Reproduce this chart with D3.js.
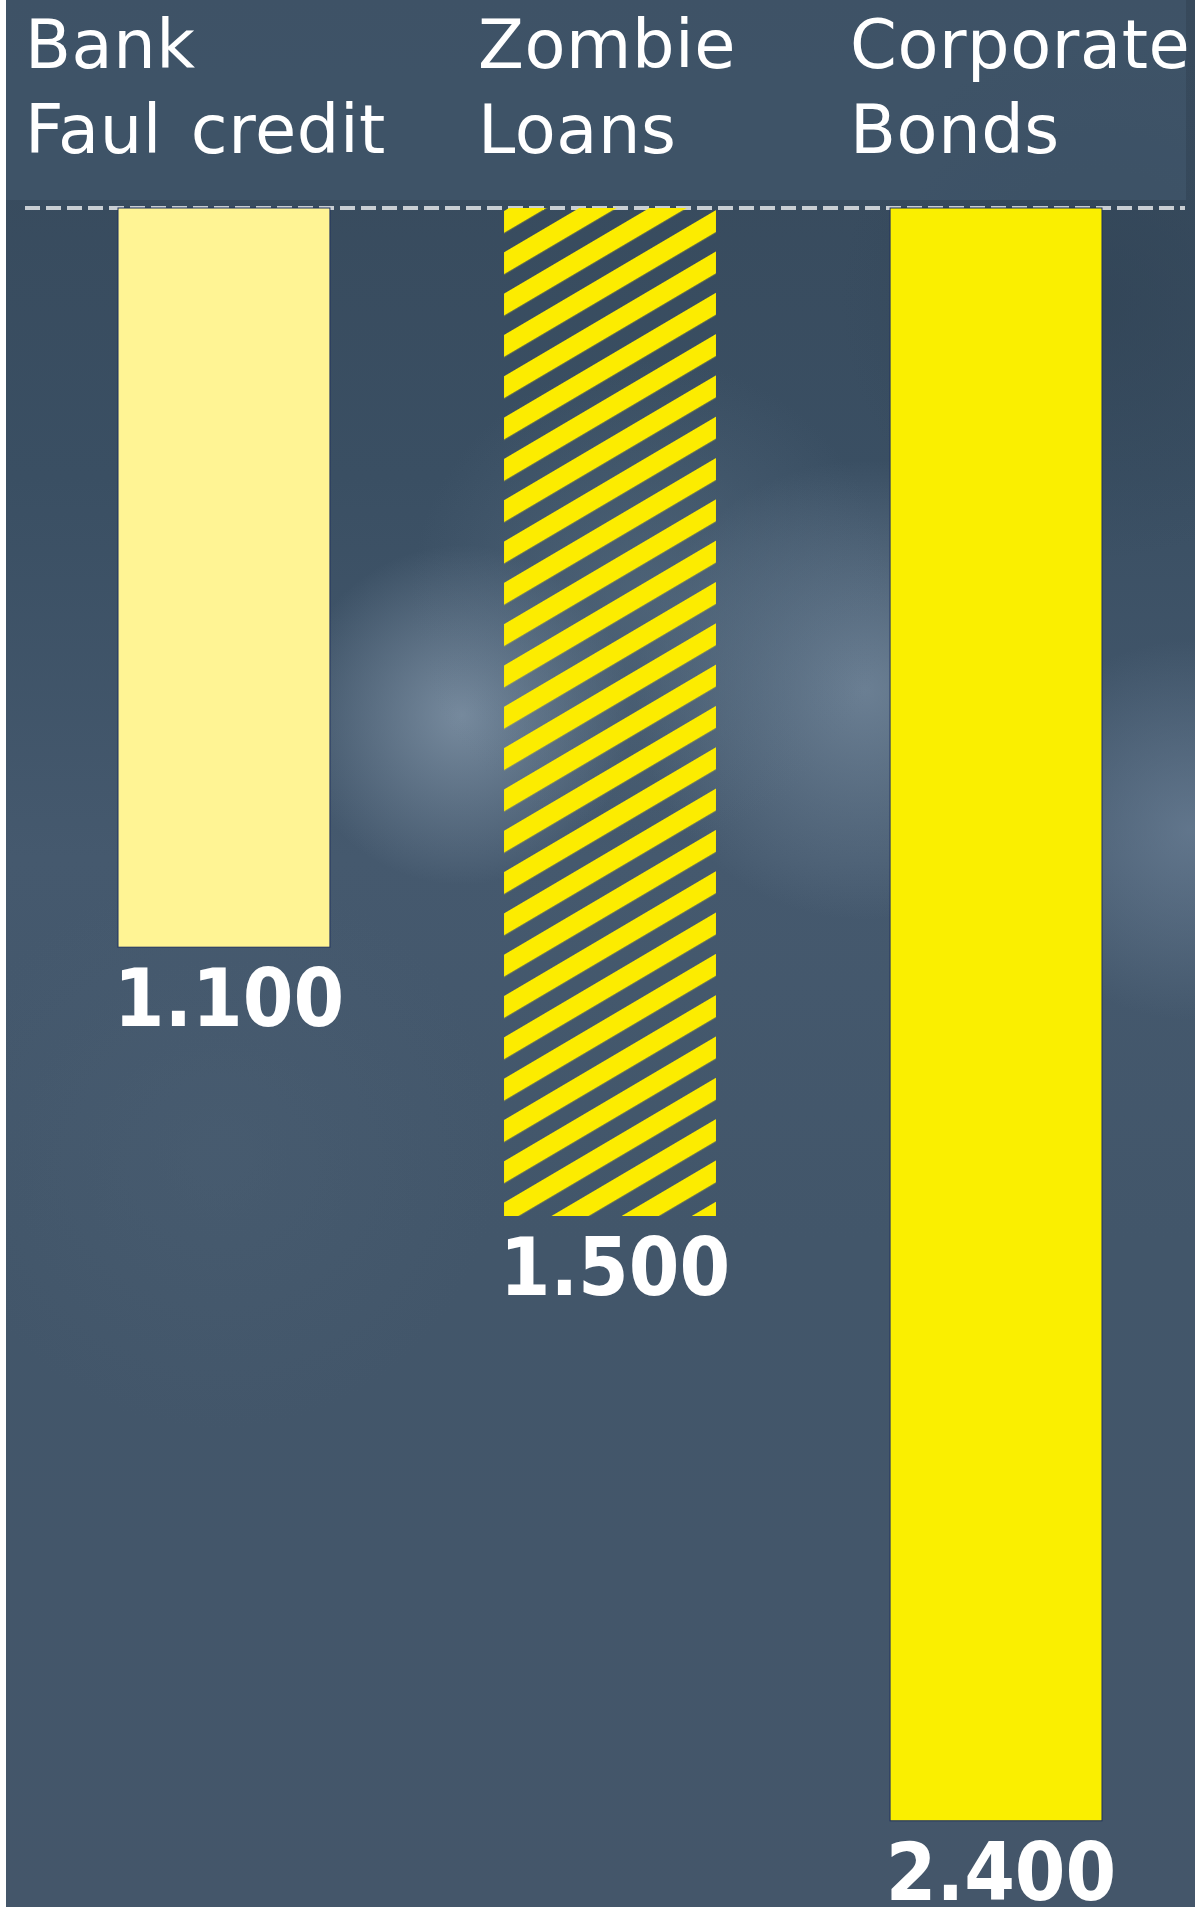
<!DOCTYPE html>
<html>
<head>
<meta charset="utf-8">
<script src="https://cdn.jsdelivr.net/npm/d3@7"></script>
<style>
  html, body { margin: 0; padding: 0; background: #ffffff; }
  svg { display: block; }
</style>
</head>
<body>
<div id="chart"></div>
<script>
// ---- data ----
const categories = ["Bank Faul credit", "Zombie Loans", "Corporate Bonds"];
const headerLines = [["Bank", "Faul credit"], ["Zombie", "Loans"], ["Corporate", "Bonds"]];
const values = [1100, 1500, 2400];
const fillStyles = ["pale", "hatch", "solid"];

// ---- layout ----
const W = 1195, H = 1907;
const baseY = 208;
const pxPerUnit = 0.672;
const headerX = [25, 478, 850];
const headerBaselines = [68, 153];

const de = d3.formatLocale({ decimal: ",", thousands: ".", grouping: [3], currency: ["", "€"] });
const fmt = de.format(",d");

const svg = d3.select("#chart").append("svg")
  .attr("width", W).attr("height", H);

const defs = svg.append("defs");

// background glows
const glows = [
  { id: "g1", cx: 462, cy: 715, r: 170, c: "#8ea1b4", o: 0.7 },
  { id: "g2", cx: 865, cy: 690, r: 230, c: "#7d91a5", o: 0.7 },
  { id: "g3", cx: 1190, cy: 830, r: 190, c: "#7489a0", o: 0.6 },
  { id: "g4", cx: 650, cy: 600, r: 240, c: "#5d7388", o: 0.5 },
  { id: "g5", cx: 220, cy: 1150, r: 280, c: "#4c6074", o: 0.45 },
  { id: "g6", cx: 1100, cy: 300, r: 260, c: "#2f4254", o: 0.6 }
];
glows.forEach(g => {
  const rg = defs.append("radialGradient").attr("id", g.id);
  rg.append("stop").attr("offset", "0%").attr("stop-color", g.c).attr("stop-opacity", g.o);
  rg.append("stop").attr("offset", "100%").attr("stop-color", g.c).attr("stop-opacity", 0);
});

const vg = defs.append("linearGradient").attr("id", "bgv").attr("x1", 0).attr("y1", 0).attr("x2", 0).attr("y2", 1);
vg.append("stop").attr("offset", "0%").attr("stop-color", "#37495b");
vg.append("stop").attr("offset", "25%").attr("stop-color", "#3a4f63");
vg.append("stop").attr("offset", "45%").attr("stop-color", "#45596e");
vg.append("stop").attr("offset", "65%").attr("stop-color", "#42566a");
vg.append("stop").attr("offset", "100%").attr("stop-color", "#44566a");

svg.append("rect").attr("x", 0).attr("y", 0).attr("width", W).attr("height", H).attr("fill", "url(#bgv)");
glows.forEach(g => {
  svg.append("circle").attr("cx", g.cx).attr("cy", g.cy).attr("r", g.r).attr("fill", `url(#${g.id})`);
});

// header panel
svg.append("rect").attr("x", 6).attr("y", 0).attr("width", 1180).attr("height", 200)
  .attr("fill", "#3e5367").attr("opacity", 0.95);

// white strip on the left
svg.append("rect").attr("x", 0).attr("y", 0).attr("width", 6).attr("height", H).attr("fill", "#ffffff");

// ---- scales ----
const x = d3.scaleBand().domain(categories).range([118, 1102]).paddingInner(0.451).paddingOuter(0);
const y = d3.scaleLinear().domain([0, 2400]).range([baseY, baseY + 2400 * pxPerUnit]);

// hatch pattern
const angle = 30.5;
const period = 35.6;
const stripe = 19;
const hatchLeft = x(categories[1]);
defs.append("pattern")
  .attr("id", "hatch")
  .attr("patternUnits", "userSpaceOnUse")
  .attr("width", 20).attr("height", period)
  .attr("patternTransform", `translate(${hatchLeft},${baseY + 3}) rotate(${-angle})`)
  .append("rect").attr("x", 0).attr("y", 0).attr("width", 20).attr("height", stripe)
  .attr("fill", "#fcec00");

// dashed baseline
svg.append("line")
  .attr("x1", 25).attr("x2", 1185).attr("y1", baseY).attr("y2", baseY)
  .attr("stroke", "#c9ced3").attr("stroke-width", 4).attr("stroke-dasharray", "15 6");

// header labels
categories.forEach((c, i) => {
  const t = svg.append("text")
    .attr("font-family", "'DejaVu Sans', sans-serif")
    .attr("font-size", 67)
    .attr("word-spacing", 7)
    .attr("letter-spacing", 0.6)
    .attr("fill", "#ffffff");
  headerLines[i].forEach((line, j) => {
    t.append("tspan").attr("x", headerX[i]).attr("y", headerBaselines[j]).text(line);
  });
});

// bars
svg.append("g").selectAll("rect").data(values).join("rect")
  .attr("x", (d, i) => x(categories[i]))
  .attr("y", y(0))
  .attr("width", x.bandwidth())
  .attr("height", d => y(d) - y(0))
  .attr("fill", (d, i) => fillStyles[i] === "pale" ? "#fff494" : fillStyles[i] === "solid" ? "#faef00" : "url(#hatch)")
  .attr("stroke", (d, i) => fillStyles[i] === "hatch" ? "none" : "#1f3160")
  .attr("stroke-width", 1);

// value labels
svg.append("g").selectAll("text").data(values).join("text")
  .attr("x", (d, i) => x(categories[i]) + x.bandwidth() / 2 + 5)
  .attr("y", d => y(d) + 79)
  .attr("text-anchor", "middle")
  .attr("font-family", "'DejaVu Sans Condensed', 'DejaVu Sans', sans-serif")
  .attr("font-stretch", "condensed")
  .attr("font-weight", "bold")
  .attr("font-size", 81)
  .attr("fill", "#ffffff")
  .text(d => fmt(d));
</script>
</body>
</html>
